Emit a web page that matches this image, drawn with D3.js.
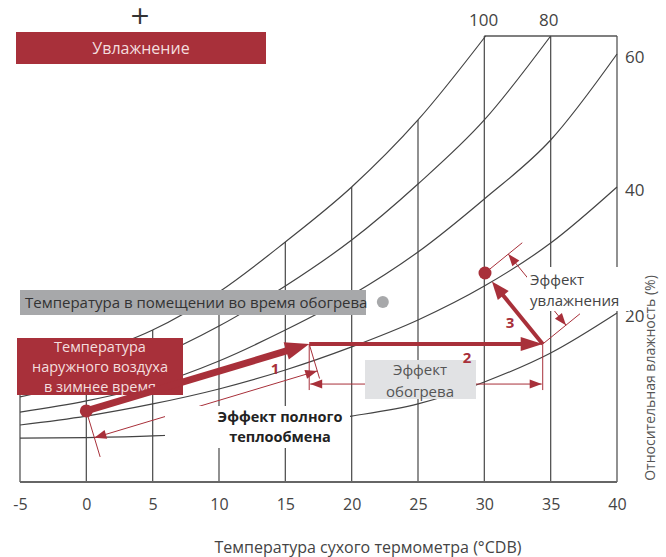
<!DOCTYPE html>
<html><head><meta charset="utf-8">
<script src="https://cdn.jsdelivr.net/npm/d3@7"></script>
<style>
html,body{margin:0;padding:0;background:#fff;}
svg{display:block;font-family:"Open Sans","Noto Sans",sans-serif;}
</style></head>
<body>
<svg id="chart" width="666" height="557"></svg>
<script>
// ---------- DATA ----------
const tempTicks = [-5, 0, 5, 10, 15, 20, 25, 30, 35, 40];
const rhLabels = ["100", "80", "60", "40", "20"];
// humidity-ratio (g/kg, schematic) of each relative-humidity curve
const rh100T = [-5, 0, 5, 10, 15, 20, 25, 30.1];
const rh100V = [6.91, 7.97, 9.54, 11.93, 15.07, 18.52, 22.73, 28.0];
const rh80T  = [-5, 0, 5, 10, 15, 20, 25, 30, 35];
const rh80V  = [5.34, 6.34, 7.78, 9.79, 12.30, 15.19, 18.71, 22.73, 28.0];
const rh60T  = [-5, 0, 5, 10, 15, 20, 25, 30, 35, 40];
const rh60V  = [4.39, 5.09, 6.09, 7.60, 9.54, 11.74, 14.44, 17.77, 21.47, 26.87];
const rh40T  = [-5, 0, 5, 10, 15, 20, 25, 30, 35, 40];
const rh40V  = [3.58, 4.14, 4.90, 5.84, 7.03, 8.48, 10.17, 12.30, 15.00, 18.52];
const rh20T  = [-5, 0, 5, 10, 15, 20, 25, 30, 35, 40];
const rh20V  = [2.76, 2.79, 2.89, 3.14, 3.58, 4.14, 4.90, 6.28, 8.10, 10.61];
const chartTop = 28.0;
// process states: [temperature, humidity ratio]
const stateOutdoor = [0, 4.46];
const stateHeatExch = [16.8, 8.66];
const stateHeated = [34.4, 8.66];
const stateHumid = [30.05, 13.12];
const stateRoom = [22.35, 11.30];
const stepLabels = ["1", "2", "3"];
const texts = {
  humid: "Увлажнение",
  room: "Температура в помещении во время обогрева",
  outdoor: ["Температура", "наружного воздуха", "в зимнее время"],
  total: ["Эффект полного", "теплообмена"],
  heat: ["Эффект", "обогрева"],
  hum: ["Эффект", "увлажнения"],
  xTitle: "Температура сухого термометра (°CDB)",
  yTitle: "Относительная влажность (%)"
};

// ---------- DRAW ----------
const svg = d3.select("#chart");
const x = d3.scaleLinear().domain([-5, 40]).range([20, 617]);
const y = d3.scaleLinear().domain([0, 28]).range([482, 36]);
const RED = "#a8303a", GRID = "#555";

const curves = [
  {T: rh100T, V: rh100V, lab: rhLabels[0]},
  {T: rh80T, V: rh80V, lab: rhLabels[1]},
  {T: rh60T, V: rh60V, lab: rhLabels[2]},
  {T: rh40T, V: rh40V, lab: rhLabels[3]},
  {T: rh20T, V: rh20V, lab: rhLabels[4]}
];
const line = d3.line().x(d => x(d[0])).y(d => y(d[1])).curve(d3.curveMonotoneX);

function satAt(t) {
  if (t >= rh100T[rh100T.length - 1]) return chartTop;
  for (let i = 0; i < rh100T.length - 1; i++) {
    if (t >= rh100T[i] && t <= rh100T[i + 1]) {
      const f = (t - rh100T[i]) / (rh100T[i + 1] - rh100T[i]);
      return Math.min(chartTop, rh100V[i] + f * (rh100V[i + 1] - rh100V[i]));
    }
  }
  return rh100V[0];
}
const gridG = svg.append("g");
gridG.selectAll("line.v").data(tempTicks).join("line")
  .attr("x1", d => x(d)).attr("x2", d => x(d))
  .attr("y1", y(0)).attr("y2", d => y(d >= 30 ? chartTop : satAt(d)))
  .attr("stroke", GRID).attr("stroke-width", 1.3);
gridG.append("line").attr("x1", x(30)).attr("x2", x(40)).attr("y1", y(chartTop)).attr("y2", y(chartTop))
  .attr("stroke", GRID).attr("stroke-width", 1.3);
gridG.append("line").attr("x1", x(-5)).attr("x2", x(40)).attr("y1", y(0)).attr("y2", y(0))
  .attr("stroke", "#666").attr("stroke-width", 2.2);

gridG.selectAll("path.c").data(curves).join("path")
  .attr("d", c => line(c.T.map((t, i) => [t, c.V[i]])))
  .attr("fill", "none").attr("stroke", "#444").attr("stroke-width", 1.2);

const lblStyle = s => s.attr("font-size", 17).attr("fill", "#444");
curves.slice(0, 2).forEach(c => {
  const t = c.T[c.T.length - 1];
  svg.append("text").attr("x", x(t) - 2).attr("y", y(chartTop) - 10)
    .attr("text-anchor", "middle").text(c.lab).call(lblStyle);
});
curves.slice(2).forEach(c => {
  const t = c.T[c.T.length - 1], v = c.V[c.V.length - 1];
  svg.append("text").attr("x", x(t) + 8).attr("y", y(v) + 9)
    .text(c.lab).call(lblStyle);
});

const ax = svg.append("g").attr("transform", `translate(0,${y(0)})`)
  .call(d3.axisBottom(x).tickValues(tempTicks).tickSize(0).tickPadding(17).tickFormat(d => String(d)));
ax.select(".domain").remove();
ax.selectAll("text").attr("font-size", 16).attr("fill", "#444")
  .attr("font-family", "'Open Sans','Noto Sans',sans-serif");

svg.append("text").attr("x", 368).attr("y", 553).attr("text-anchor", "middle")
  .attr("font-size", 16).attr("fill", "#444").text(texts.xTitle);
svg.append("text").attr("transform", "translate(655,378) rotate(-90)").attr("text-anchor", "middle")
  .attr("font-size", 14).attr("fill", "#555").text(texts.yTitle);

// ---------- process annotations ----------
const P = s => [x(s[0]), y(s[1])];
const p0 = P(stateOutdoor), p1 = P(stateHeatExch), p2 = P(stateHeated), p3 = P(stateHumid);
const sub = (a, b) => [a[0] - b[0], a[1] - b[1]];
const add = (a, b) => [a[0] + b[0], a[1] + b[1]];
const mul = (a, k) => [a[0] * k, a[1] * k];
const unit = a => { const l = Math.hypot(a[0], a[1]); return [a[0] / l, a[1] / l]; };
const ann = svg.append("g");

function thinLine(a, b, w) {
  ann.append("line").attr("x1", a[0]).attr("y1", a[1]).attr("x2", b[0]).attr("y2", b[1])
    .attr("stroke", RED).attr("stroke-width", w || 1);
}
function head(tip, dir, len, hw, parent) {
  const d = unit(dir), n = [-d[1], d[0]];
  const base = sub(tip, mul(d, len));
  (parent || ann).append("path")
    .attr("d", "M" + tip + "L" + add(base, mul(n, hw)) + "L" + add(base, mul(n, -hw)) + "Z")
    .attr("fill", RED);
}
function dimArrow(a, b) {
  thinLine(a, b, 1);
  head(a, sub(a, b), 12, 4.5);
  head(b, sub(b, a), 12, 4.5);
}

const u1 = unit(sub(p1, p0));
let nn1 = [-u1[1], u1[0]]; if (nn1[1] < 0) nn1 = mul(nn1, -1);
thinLine(p0, add(p0, mul(nn1, 48)));
thinLine(p1, add(p1, mul(nn1, 36)));
dimArrow(add(p0, mul(nn1, 28)), add(p1, mul(nn1, 28)));

thinLine(p1, [p1[0], p1[1] + 46]);
thinLine(p2, [p2[0], p2[1] + 46]);
dimArrow([p1[0] + 1, p1[1] + 40], [p2[0] - 1, p2[1] + 40]);

const u3 = unit(sub(p3, p2));
let n3 = [-u3[1], u3[0]]; if (n3[0] < 0) n3 = mul(n3, -1);
thinLine(p3, add(p3, mul(n3, 48)));
thinLine(p2, add(p2, mul(n3, 48)));
dimArrow(add(p3, mul(n3, 30)), add(p2, mul(n3, 30)));

const boxes = svg.append("g");
boxes.append("rect").attr("x", 165).attr("y", 406).attr("width", 185).attr("height", 42).attr("fill", "#fff");
boxes.append("rect").attr("x", 527).attr("y", 267).attr("width", 103).attr("height", 44).attr("fill", "#fff");
texts.total.forEach((t, i) => boxes.append("text").attr("x", 280).attr("y", 422 + i * 20)
  .attr("text-anchor", "middle").attr("font-size", 14.5).attr("font-weight", 700).attr("fill", "#222").text(t));
texts.hum.forEach((t, i) => boxes.append("text").attr("x", 530).attr("y", 285 + i * 21)
  .attr("font-size", 15).attr("fill", "#444").text(t));

boxes.append("rect").attr("x", 365).attr("y", 360).attr("width", 111).attr("height", 39).attr("fill", "#e1e2e4");
texts.heat.forEach((t, i) => boxes.append("text").attr("x", 420).attr("y", 375 + i * 22)
  .attr("text-anchor", "middle").attr("font-size", 15).attr("fill", "#555").text(t));

boxes.append("rect").attr("x", 20).attr("y", 290).attr("width", 346).attr("height", 25).attr("fill", "#a7a8aa");
boxes.append("text").attr("x", 25).attr("y", 308).attr("font-size", 15).attr("fill", "#333").text(texts.room);
boxes.append("circle").attr("cx", x(stateRoom[0])).attr("cy", y(stateRoom[1])).attr("r", 6).attr("fill", "#a7a8aa");

boxes.append("rect").attr("x", 16).attr("y", 32).attr("width", 250).attr("height", 32).attr("fill", RED);
boxes.append("text").attr("x", 141).attr("y", 54).attr("text-anchor", "middle").attr("font-size", 16)
  .attr("fill", "#f3dede").text(texts.humid);
boxes.append("text").attr("x", 140).attr("y", 24).attr("text-anchor", "middle").attr("font-size", 25)
  .attr("font-family", "'DejaVu Sans',sans-serif").attr("fill", "#333").text("+");

boxes.append("rect").attr("x", 17).attr("y", 338).attr("width", 166).attr("height", 57).attr("fill", RED);
texts.outdoor.forEach((t, i) => boxes.append("text").attr("x", 100).attr("y", 352 + i * 20)
  .attr("text-anchor", "middle").attr("font-size", 14.5).attr("fill", "#f3dede").text(t));

const arrG = svg.append("g");
function bigArrow(a, tip, w, len, hw) {
  const d = unit(sub(tip, a));
  const end = sub(tip, mul(d, len - 2));
  arrG.append("line").attr("x1", a[0]).attr("y1", a[1]).attr("x2", end[0]).attr("y2", end[1])
    .attr("stroke", RED).attr("stroke-width", w);
  head(tip, d, len, hw, arrG);
}
bigArrow(p0, p1, 7, 24, 9);
bigArrow(p1, p2, 4, 22, 7);
const tip3 = add(p3, mul(unit(sub(p2, p3)), 11));
bigArrow(p2, tip3, 4, 18, 7);
arrG.append("circle").attr("cx", p0[0]).attr("cy", p0[1]).attr("r", 6.5).attr("fill", RED);
arrG.append("circle").attr("cx", p3[0]).attr("cy", p3[1]).attr("r", 6.5).attr("fill", RED);

const lp = [[275, 374], [467, 363], [510, 328]];
stepLabels.forEach((s, i) => arrG.append("text").attr("x", lp[i][0]).attr("y", lp[i][1])
  .attr("text-anchor", "middle").attr("font-size", 15).attr("font-weight", 700).attr("fill", RED).text(s));
</script>
</body></html>
